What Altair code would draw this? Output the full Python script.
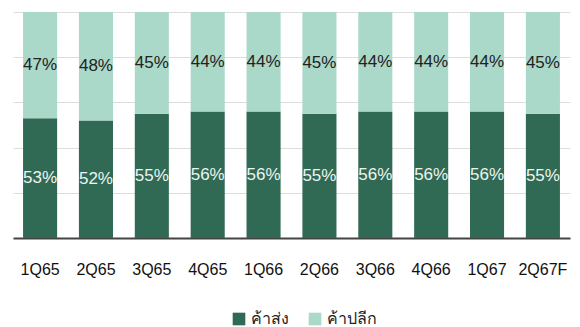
import altair as alt
import pandas as pd

quarters = ["1Q65", "2Q65", "3Q65", "4Q65", "1Q66", "2Q66", "3Q66", "4Q66", "1Q67", "2Q67F"]
wholesale = [53, 52, 55, 56, 56, 55, 56, 56, 56, 55]
retail = [47, 48, 45, 44, 44, 45, 44, 44, 44, 45]
series = ["ค้าส่ง", "ค้าปลีก"]
colors = ["#306a55", "#aad8c9"]
label_colors = ["#eef5f1", "#222222"]

rows = []
for q, w, r in zip(quarters, wholesale, retail):
    rows.append({"quarter": q, "segment": series[0], "value": w, "ord": 0})
    rows.append({"quarter": q, "segment": series[1], "value": r, "ord": 1})
df = pd.DataFrame(rows)

base = alt.Chart(df).transform_stack(
    stack="value", groupby=["quarter"], as_=["y0", "y1"],
    sort=[alt.SortField("ord", order="ascending")]
).transform_calculate(mid="(datum.y0 + datum.y1) / 2", label="datum.value + '%'")

xs = alt.Scale(paddingInner=0.39, paddingOuter=0.18)
ys = alt.Scale(domain=[0, 100])

bars = base.mark_bar().encode(
    x=alt.X("quarter:N", sort=quarters, title=None, scale=xs),
    y=alt.Y("y0:Q", scale=ys, title=None),
    y2="y1:Q",
    color=alt.Color("segment:N", scale=alt.Scale(domain=series, range=colors),
                    legend=alt.Legend(title=None, orient="none", direction="horizontal",
                                      legendX=218, legendY=299, symbolType="square",
                                      symbolSize=160, symbolStrokeWidth=0, labelFontSize=16,
                                      labelColor="#222222", columnPadding=18,
                                      symbolOpacity=1)),
    order=alt.Order("ord:Q"),
)

text = base.mark_text(fontSize=17, font="Liberation Sans").encode(
    x=alt.X("quarter:N", sort=quarters, title=None),
    y=alt.Y("mid:Q", title=None),
    text=alt.Text("label:N"),
    color=alt.Color("segment:N", scale=alt.Scale(domain=series, range=label_colors), legend=None),
)

chart = alt.layer(bars, text).resolve_scale(color="independent").properties(
    width=557, height=226,
    background="#ffffff",
    autosize=alt.AutoSizeParams(type="none"),
    padding={"left": 13, "top": 12, "right": 10, "bottom": 89},
).configure_view(stroke=None).configure_axisX(
    labelAngle=0, ticks=False, domainColor="#444444", domainWidth=2,
    labelPadding=23, labelFontSize=16, labelColor="#111111",
    labelFont="Liberation Sans", labelFontWeight="normal", grid=False,
).configure_axisY(
    labels=False, ticks=False, domain=False, grid=True,
    gridColor="#dddddd", values=[0, 20, 40, 60, 80, 100],
)

chart.save("out.html", embed_options={"renderer": "svg", "actions": False})
